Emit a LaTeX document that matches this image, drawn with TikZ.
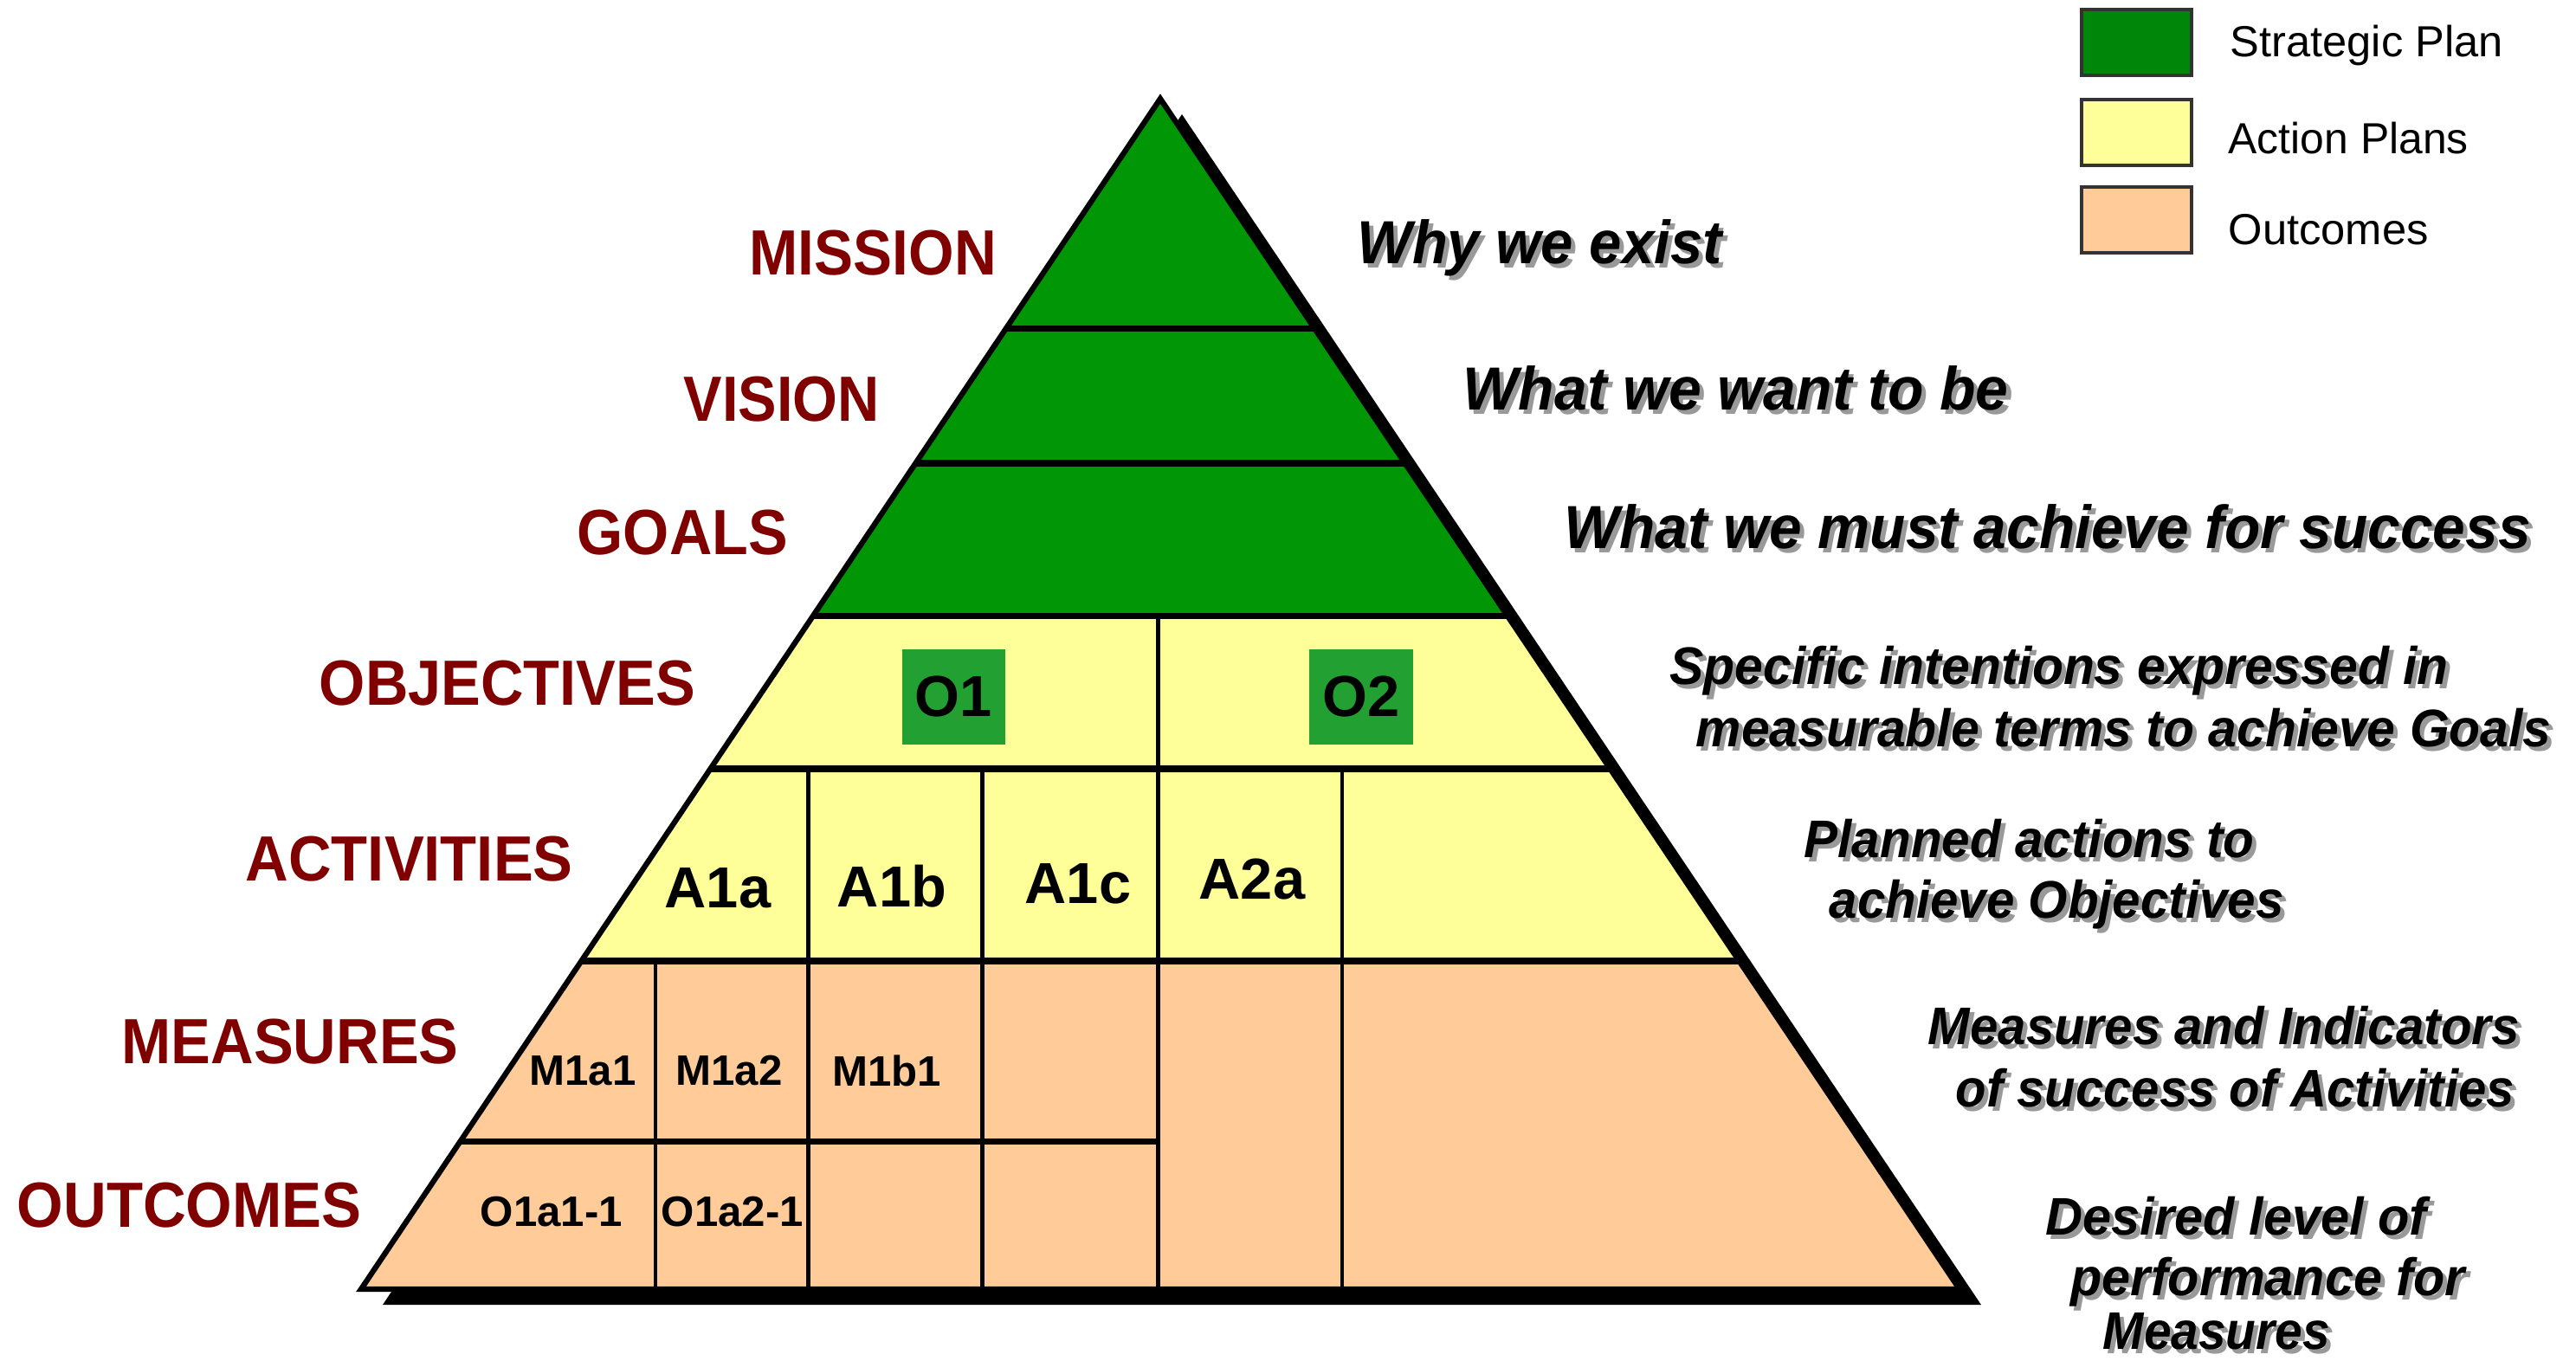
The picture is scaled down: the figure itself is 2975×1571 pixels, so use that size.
\documentclass[tikz,border=0pt]{standalone}
\usepackage{fontspec}
\setmainfont{Liberation Sans}
\usepackage{graphicx}
\newlength\pxu
\setlength\pxu{0.1mm}
\newcommand\fitw[3]{\resizebox{#1\pxu}{\height}{\fontsize{#2pt}{#2pt}\selectfont #3}}
\newcommand\shtext[6]{%
  \node[anchor=base west,inner sep=0pt,text=black!40] at ({#2+5},{#3+5}) {\fitw{#4}{#5}{\bfseries\itshape #6}};
  \node[anchor=base west,inner sep=0pt] (#1) at (#2,#3) {\fitw{#4}{#5}{\bfseries\itshape #6}};
}
\definecolor{pgreen}{RGB}{0,150,5}
\definecolor{lgreen}{RGB}{0,135,10}
\definecolor{ogreen}{RGB}{35,160,50}
\definecolor{pyel}{RGB}{255,255,153}
\definecolor{ppeach}{RGB}{255,204,153}
\definecolor{dred}{RGB}{128,0,0}
\begin{document}
\begin{tikzpicture}[x=0.1mm,y=-0.1mm,
  hline/.style={line width=2.2pt},
  vline/.style={line width=1.4pt},
  lbl/.style={anchor=base west,inner sep=0pt,text=dred,font=\bfseries},
  cellA/.style={inner sep=0pt,font=\fontsize{19pt}{19pt}\selectfont\bfseries},
  cellM/.style={inner sep=0pt,font=\fontsize{14pt}{14pt}\selectfont\bfseries},
  obox/.style={fill=ogreen,minimum width=11.95mm,minimum height=11mm,inner sep=0pt,font=\fontsize{19pt}{19pt}\selectfont\bfseries},
  legbox/.style={draw=black!80,line width=0.9pt,minimum width=12.7mm,minimum height=7.6mm,inner sep=0pt},
  legtxt/.style={anchor=base west,inner sep=0pt}]
\useasboundingbox (0,0) rectangle (2975,1571);
\fill[white] (0,0) rectangle (2975,1571);
\coordinate (A) at (1340,114);
\coordinate (L) at (417,1489);
\coordinate (R) at (2263,1489);
% drop shadow
\fill[black] ([shift={(25,18)}]A) -- ([shift={(25,18)}]L) -- ([shift={(25,18)}]R) -- cycle;
\begin{scope}
  \clip (A) -- (L) -- (R) -- cycle;
  \fill[pgreen] (0,0) rectangle (2975,711.5);
  \fill[pyel] (0,711.5) rectangle (2975,1110);
  \fill[ppeach] (0,1110) rectangle (2975,1489);
  \draw[hline] (0,379.5) -- (2975,379.5);
  \draw[hline] (0,535) -- (2975,535);
  \draw[hline] (0,711.5) -- (2975,711.5);
  \draw[hline] (0,888) -- (2975,888);
  \draw[hline] (0,1110) -- (2975,1110);
  \draw[hline] (0,1318.6) -- (1337.6,1318.6);
  \draw[vline] (1337.6,711.5) -- (1337.6,1489);
  \draw[vline] (933.5,888) -- (933.5,1489);
  \draw[vline] (1134.6,888) -- (1134.6,1489);
  \draw[vline] (1550,888) -- (1550,1489);
  \draw[vline] (757,1110) -- (757,1489);
\end{scope}
\draw[line width=1.8pt] (A) -- (L) -- (R) -- cycle;
% objective boxes
\node[obox] (o1) at (1101.4,804.5) {O1};
\node[obox] (o2) at (1572,804.5) {O2};
% cell labels
\node[cellA] (a1a) at (829,1026) {A1a};
\node[cellA] (a1b) at (1030,1024) {A1b};
\node[cellA] (a1c) at (1245,1021) {A1c};
\node[cellA] (a2a) at (1446,1015) {A2a};
\node[cellM] (m1a1) at (673,1237) {M1a1};
\node[cellM] (m1a2) at (842,1237) {M1a2};
\node[cellM] (m1b1) at (1024,1237) {M1b1};
\node[cellM] (o1a11) at (637,1400) {O1a1-1};
\node[cellM] (o1a21) at (846,1400) {O1a2-1};
% left labels
\node[lbl] (mission) at (865,317) {\fitw{285}{21}{MISSION}};
\node[lbl] (vision) at (789,486) {\fitw{226}{21}{VISION}};
\node[lbl] (goals) at (666,640) {\fitw{243}{21}{GOALS}};
\node[lbl] (objectives) at (368,814) {\fitw{434}{21}{OBJECTIVES}};
\node[lbl] (activities) at (283,1017) {\fitw{378}{21}{ACTIVITIES}};
\node[lbl] (measures) at (140,1228) {\fitw{389}{21}{MEASURES}};
\node[lbl] (outcomes) at (19,1417) {\fitw{398}{21}{OUTCOMES}};
% right descriptions
\shtext{why}{1567}{304}{421}{20}{Why we exist}
\shtext{want}{1689}{473}{630}{20}{What we want to be}
\shtext{must}{1806}{633}{1116}{20}{What we must achieve for success}
\shtext{specA}{1928}{790}{899}{17.4}{Specific intentions expressed in}
\shtext{specB}{1958}{862}{988}{17.4}{measurable terms to achieve Goals}
\shtext{planA}{2083}{990}{520}{17.4}{Planned actions to}
\shtext{planB}{2112}{1060}{525}{17.4}{achieve Objectives}
\shtext{measA}{2226}{1206}{683}{17.4}{Measures and Indicators}
\shtext{measB}{2258}{1278}{645}{17.4}{of success of Activities}
\shtext{desA}{2362}{1426}{440}{17.4}{Desired level of}
\shtext{desB}{2391}{1496}{455}{17.4}{performance for}
\shtext{desC}{2428}{1558}{262}{17.4}{Measures}
% legend
\node[legbox,fill=lgreen] (lg1) at (2467.5,49) {};
\node[legbox,fill=pyel] (lg2) at (2467.5,153) {};
\node[legbox,fill=ppeach] (lg3) at (2467.5,254) {};
\node[legtxt] (lt1) at (2575,65) {\fitw{315}{14.3}{Strategic Plan}};
\node[legtxt] (lt2) at (2573,177) {\fitw{277}{14.3}{Action Plans}};
\node[legtxt] (lt3) at (2573,282) {\fitw{231}{14.3}{Outcomes}};
\end{tikzpicture}
\end{document}
